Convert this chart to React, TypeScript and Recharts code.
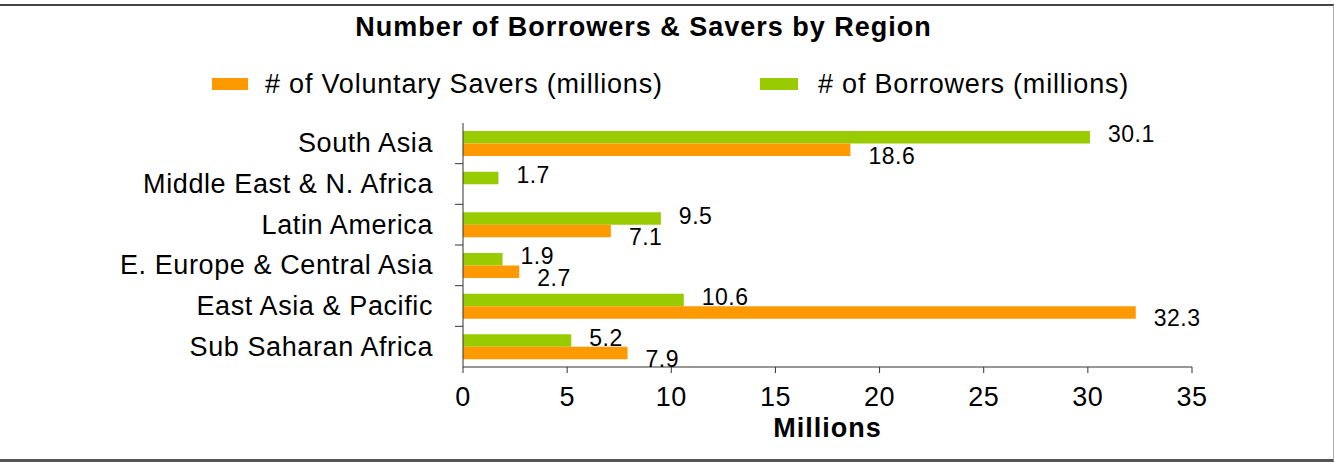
import React from 'react';
import { BarChart, Bar, XAxis, YAxis, LabelList } from 'recharts';

const regions = [
  'South Asia',
  'Middle East & N. Africa',
  'Latin America',
  'E. Europe & Central Asia',
  'East Asia & Pacific',
  'Sub Saharan Africa',
];
const borrowers = [30.1, 1.7, 9.5, 1.9, 10.6, 5.2];
const savers = [18.6, null, 7.1, 2.7, 32.3, 7.9];
const xTicks = [0, 5, 10, 15, 20, 25, 30, 35];

const ORANGE = '#FF9900';
const GREEN = '#99CC00';
const FONT = '"Liberation Sans", Arial, sans-serif';

const data = regions.map((region, i) => ({
  region,
  borrowers: borrowers[i],
  savers: savers[i],
}));

const PLOT_TOP = 123;
const PLOT_BOTTOM = 367;
const BAND = (PLOT_BOTTOM - PLOT_TOP) / regions.length;

const RegionTick = (props: any) => {
  const { y, payload, index } = props;
  return (
    <g>
      <text
        x={433}
        y={y}
        textAnchor="end"
        dominantBaseline="central"
        fontSize={27}
        letterSpacing={0.6}
        fill="#000"
        fontFamily={FONT}
      >
        {payload.value}
      </text>
      {index < regions.length - 1 && (
        <line x1={455} x2={463} y1={y + BAND / 2} y2={y + BAND / 2} stroke="#333" />
      )}
    </g>
  );
};

const valueLabel = (dy: number) => (props: any) => {
  const { x, y, width, height, value } = props;
  if (value == null) return null;
  return (
    <text
      x={x + width + 18}
      y={y + height / 2 + dy}
      dominantBaseline="central"
      fontSize={23}
      letterSpacing={0.5}
      fill="#000"
      fontFamily={FONT}
    >
      {value}
    </text>
  );
};

const LegendBox = () => (
  <div style={{ position: 'absolute', left: 0, top: 69, width: 1334, height: 36, fontFamily: FONT, fontSize: 27, letterSpacing: 0.8 }}>
    <div style={{ position: 'absolute', left: 212, top: 9, width: 36, height: 12, background: ORANGE }} />
    <div style={{ position: 'absolute', left: 265, top: 0, whiteSpace: 'nowrap', color: '#000' }}>
      # of Voluntary Savers (millions)
    </div>
    <div style={{ position: 'absolute', left: 760, top: 9, width: 38, height: 12, background: GREEN }} />
    <div style={{ position: 'absolute', left: 818, top: 0, whiteSpace: 'nowrap', color: '#000' }}>
      # of Borrowers (millions)
    </div>
  </div>
);

export default function App() {
  return (
    <div style={{ position: 'fixed', left: 0, top: 0, width: 1334, height: 462, background: '#fff' }}>
      <div
        style={{
          position: 'absolute',
          left: 0,
          top: 4,
          width: 1333,
          height: 453,
          borderTop: '2px solid #444',
          borderBottom: '3px solid #555',
          borderRight: '1px solid #aaa',
        }}
      />
      <div
        style={{
          position: 'absolute',
          left: 0,
          top: 12,
          width: 1287,
          textAlign: 'center',
          fontFamily: FONT,
          fontSize: 27,
          fontWeight: 'bold',
          letterSpacing: 1,
          color: '#000',
        }}
      >
        Number of Borrowers &amp; Savers by Region
      </div>
      <LegendBox />
      <div style={{ position: 'absolute', left: 0, top: 0 }}>
        <BarChart
          width={1334}
          height={462}
          data={data}
          layout="vertical"
          margin={{ top: PLOT_TOP, right: 142, bottom: 0, left: 0 }}
          barGap={0}
        >
          <XAxis
            type="number"
            domain={[0, 35]}
            ticks={xTicks}
            height={95}
            tickSize={6}
            tickMargin={14}
            axisLine={{ stroke: '#333' }}
            tickLine={{ stroke: '#333' }}
            tick={{ fontSize: 27, fill: '#000', fontFamily: FONT, letterSpacing: 0.5 }}
            label={{
              content: (p: any) => {
                const vb = p.viewBox;
                return (
                  <text
                    x={vb.x + vb.width / 2}
                    y={vb.y + 70}
                    textAnchor="middle"
                    fontSize={27}
                    fontWeight="bold"
                    letterSpacing={1}
                    fontFamily={FONT}
                    fill="#000"
                  >
                    Millions
                  </text>
                );
              },
            }}
          />
          <YAxis
            type="category"
            dataKey="region"
            width={463}
            axisLine={{ stroke: '#333' }}
            tickLine={false}
            tick={<RegionTick />}
            interval={0}
          />
          <Bar dataKey="borrowers" fill={GREEN} barSize={12.5} isAnimationActive={false}>
            <LabelList dataKey="borrowers" content={valueLabel(-3)} />
          </Bar>
          <Bar dataKey="savers" fill={ORANGE} barSize={12.5} isAnimationActive={false}>
            <LabelList dataKey="savers" content={valueLabel(6)} />
          </Bar>
        </BarChart>
      </div>
    </div>
  );
}
